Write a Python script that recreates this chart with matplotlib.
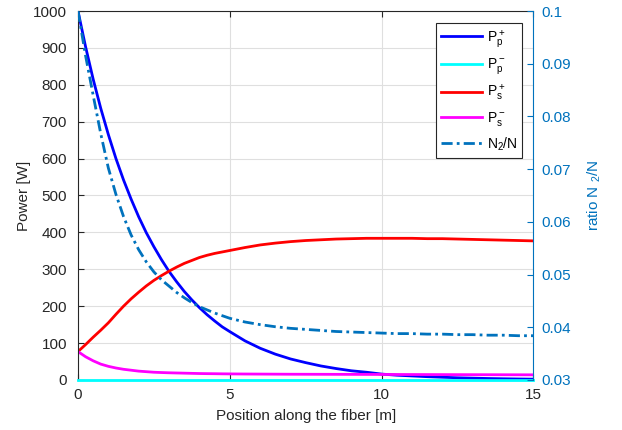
import matplotlib
matplotlib.use("Agg")
from matplotlib import pyplot as plt

# Position along the fiber [m]
z = [0, 0.25, 0.5, 0.75, 1, 1.25, 1.5, 1.75, 2, 2.25, 2.5, 2.75, 3, 3.25, 3.5,
     3.75, 4, 4.25, 4.5, 4.75, 5, 5.5, 6, 6.5, 7, 7.5, 8, 8.5, 9, 9.5, 10,
     10.5, 11, 11.5, 12, 12.5, 13, 13.5, 14, 14.5, 15]

# Powers [W]
Pp_fwd = [1000, 903, 815, 736, 665, 600, 542, 490, 442, 399, 361, 326, 294, 266,
          240, 217, 196, 177, 160, 144, 131, 106, 86, 70, 57, 47, 38, 31, 25,
          21, 16, 13, 11, 9, 7.5, 6, 5, 4, 3.3, 2.7, 2.2]
Pp_bwd = [0] * 41
Ps_fwd = [77, 96, 116, 135, 155, 178, 200, 220, 238, 255, 270, 283, 295, 306,
          316, 324, 332, 338, 343, 347, 351, 359, 366, 371, 375, 378, 380, 382,
          383, 384, 384, 384, 384, 383, 383, 382, 381, 380, 379, 378, 377]
Ps_bwd = [77, 63, 52, 43, 37, 32.5, 29, 26.5, 24, 22.5, 21, 20.2, 19.5, 19,
          18.5, 18, 17.5, 17.2, 17, 16.7, 16.5, 16.2, 16, 15.8, 15.6, 15.5,
          15.4, 15.3, 15.2, 15.1, 15, 14.9, 14.8, 14.7, 14.6, 14.5, 14.4, 14.3,
          14.2, 14.1, 14]
# ratio N2/N (right axis)
N2ratio = [0.1, 0.0915, 0.0840, 0.0767, 0.0702, 0.0652, 0.0610, 0.0575, 0.0547,
           0.0524, 0.0505, 0.0490, 0.0478, 0.0466, 0.0456, 0.0447, 0.0439,
           0.0433, 0.0427, 0.0422, 0.0417, 0.0410, 0.0405, 0.0401, 0.0398,
           0.0396, 0.0394, 0.0392, 0.0391, 0.0390, 0.0389, 0.0388, 0.0388,
           0.0387, 0.0387, 0.0386, 0.0386, 0.0385, 0.0385, 0.0384, 0.0384]

xticks = [0, 5, 10, 15]
yticks_left = list(range(0, 1001, 100))
yticks_right = [0.03, 0.04, 0.05, 0.06, 0.07, 0.08, 0.09, 0.1]

plt.rcParams.update({
    "font.family": ["Liberation Sans", "DejaVu Sans"],
    "font.size": 11,
    "mathtext.default": "regular",
    "xtick.direction": "in",
    "ytick.direction": "in",
})

mblue = "#0072BD"
dark = "#262626"

fig = plt.figure(figsize=(6.22, 4.30), dpi=100)
ax = fig.add_axes([0.1254, 0.1163, 0.7323, 0.8581])
ax2 = ax.twinx()

# left axis curves
l1, = ax.plot(z, Pp_fwd, color="#0000FF", lw=2, label="$P^+_p$")
l2, = ax.plot(z, Pp_bwd, color="#00FFFF", lw=2, label="$P^-_p$", clip_on=False, zorder=5)
l3, = ax.plot(z, Ps_fwd, color="#FF0000", lw=2, label="$P^+_s$")
l4, = ax.plot(z, Ps_bwd, color="#FF00FF", lw=2, label="$P^-_s$")
# right axis curve
l5, = ax2.plot(z, N2ratio, color=mblue, lw=2, ls=(0, (4, 1.5, 1, 1.5)), label="$N_2$/N")

ax.set_xlim(0, 15)
ax.set_ylim(0, 1000)
ax2.set_ylim(0.03, 0.1)
ax.set_xticks(xticks)
ax.set_yticks(yticks_left)
ax2.set_yticks(yticks_right)
ax2.set_yticklabels([f"{v:g}" for v in yticks_right])

ax.grid(True, color="#DFDFDF", lw=0.8)
ax.set_axisbelow(True)
ax.tick_params(colors=dark, length=4, top=True, labelcolor=dark)
ax.tick_params(axis="y", pad=8)
ax.tick_params(axis="x", pad=6)
ax2.tick_params(axis="y", colors=mblue, length=4, labelcolor=mblue, pad=6)

for s in ["left", "bottom", "top"]:
    ax.spines[s].set_color(dark)
ax.spines["right"].set_visible(False)
for s in ["left", "bottom", "top"]:
    ax2.spines[s].set_visible(False)
ax2.spines["right"].set_color(mblue)

ax.set_xlabel("Position along the fiber [m]", color=dark, labelpad=5)
ax.set_ylabel("Power [W]", color=dark, labelpad=1)
ax2.set_ylabel("ratio N $_2$/N", color=mblue, labelpad=10)

leg = ax2.legend(handles=[l1, l2, l3, l4, l5], loc="upper right",
                 bbox_to_anchor=(0.975, 0.968), borderaxespad=0,
                 fancybox=False, framealpha=1,
                 edgecolor=dark, handlelength=3.0, labelspacing=0.5,
                 borderpad=0.35, handletextpad=0.3, fontsize=10)
leg.get_frame().set_linewidth(0.8)

fig.savefig("out.png", dpi=100)
